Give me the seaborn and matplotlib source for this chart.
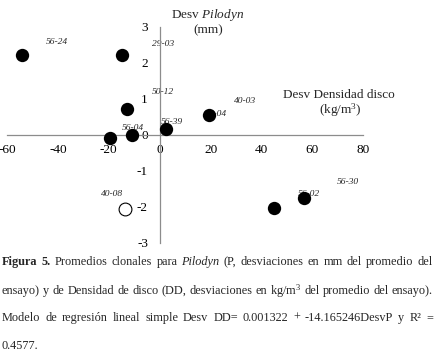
import matplotlib
matplotlib.use("Agg")
import matplotlib.pyplot as plt
import seaborn as sns
import pandas as pd

# Datos (desviaciones clonales)
clones = ["56-24", "29-03", "50-12", "40-03", "56-39", "56-04", "40-04", "40-08", "56-30", "56-02"]
desv_densidad = [-54.2, -14.9, -12.9, 19.4, 2.4, -10.9, -19.6, -13.6, 44.8, 56.8]
desv_pilodyn = [2.22, 2.20, 0.72, 0.56, 0.15, 0.0, -0.09, -2.06, -2.03, -1.75]
relleno = ["si", "si", "si", "si", "si", "si", "si", "no", "si", "si"]

# desplazamiento de las etiquetas (pixeles)
label_offsets = [(35, 13), (41, 12), (36, 17), (36, 14), (6, 7), (1, 7),
                 (106, 24), (-13, 15), (74, 26), (5, 4)]

x_ticks = [-60, -40, -20, 0, 20, 40, 60, 80]
y_ticks = [-3, -2, -1, 0, 1, 2, 3]

df = pd.DataFrame({"clon": clones, "dd": desv_densidad, "p": desv_pilodyn, "relleno": relleno})

W, H = 439, 357
sns.set_style("white")
plt.rcParams["font.family"] = ["Liberation Serif", "DejaVu Serif"]
plt.rcParams["mathtext.fontset"] = "custom"
plt.rcParams["mathtext.rm"] = "Liberation Serif"
plt.rcParams["mathtext.it"] = "Liberation Serif:italic"
plt.rcParams["mathtext.bf"] = "Liberation Serif:bold"
plt.rcParams["axes.unicode_minus"] = False

fig = plt.figure(figsize=(W / 100, H / 100), dpi=100)
ax = fig.add_axes([7 / W, 1 - 242.7 / H, 356.3 / W, 216 / H])

sns.scatterplot(data=df[df.relleno == "si"], x="dd", y="p", ax=ax, s=92,
                color="black", edgecolor="black", linewidth=0, zorder=3, legend=False)
sns.scatterplot(data=df[df.relleno == "no"], x="dd", y="p", ax=ax, s=85,
                color="white", edgecolor="black", linewidth=0.8, zorder=3, legend=False)

for (clon, x, y), off in zip(df[["clon", "dd", "p"]].values, label_offsets):
    ax.annotate(clon, (x, y), xytext=off, textcoords="offset pixels",
                fontsize=6.8, style="italic", ha="center", va="center", zorder=1)

ax.set_xlim(-60, 80)
ax.set_ylim(-3, 3)
ax.set_xticks(x_ticks)
ax.set_yticks(y_ticks)
ax.set_xlabel("")
ax.set_ylabel("")
for side in ["top", "right"]:
    ax.spines[side].set_visible(False)
ax.spines["left"].set_position(("data", 0))
ax.spines["bottom"].set_position(("data", 0))
for side in ["left", "bottom"]:
    ax.spines[side].set_color("#8c8c8c")
    ax.spines[side].set_linewidth(0.9)
ax.tick_params(axis="both", direction="out", length=3, width=0.9, color="#8c8c8c",
               labelsize=9.5, labelcolor="black")
ax.tick_params(axis="x", pad=3.5)
ax.tick_params(axis="y", pad=5.5)
ax.patch.set_alpha(0)

# titulos de ejes
fig.text(208 / W, 1 - 15 / H, r"Desv $\mathit{Pilodyn}$", ha="center", va="center", fontsize=9.5)
fig.text(208 / W, 1 - 30 / H, "(mm)", ha="center", va="center", fontsize=9.5)
fig.text(339 / W, 1 - 95 / H, "Desv Densidad disco", ha="center", va="center", fontsize=9.5)
fig.text(340 / W, 1 - 110 / H, r"(kg/m$^3$)", ha="center", va="center", fontsize=9.5)

# pie de figura, justificado
caption = [
    ([("Figura", "b"), ("5.", "b"), ("Promedios", "n"), ("clonales", "n"), ("para", "n"),
      ("Pilodyn", "i"), ("(P,", "n"), ("desviaciones", "n"), ("en", "n"), ("mm", "n"),
      ("del", "n"), ("promedio", "n"), ("del", "n")], 262, True),
    ([("ensayo)", "n"), ("y", "n"), ("de", "n"), ("Densidad", "n"), ("de", "n"), ("disco", "n"),
      ("(DD,", "n"), ("desviaciones", "n"), ("en", "n"), (r"kg/m$^3$", "n"), ("del", "n"),
      ("promedio", "n"), ("del", "n"), ("ensayo).", "n")], 291, True),
    ([("Modelo", "n"), ("de", "n"), ("regresión", "n"), ("lineal", "n"), ("simple", "n"),
      ("Desv", "n"), ("DD=", "n"), ("0.001322", "n"), ("+", "n"), ("-14.165246DesvP", "n"),
      ("y", "n"), ("R²", "n"), ("=", "n")], 318, True),
    ([("0.4577.", "n")], 346, False),
]
styles = {"n": {}, "b": {"weight": "bold"}, "i": {"style": "italic"}}
renderer = fig.canvas.get_renderer()
x0, x1 = 2, 433
for words, ypx, justify in caption:
    arts = [fig.text(0, 1 - ypx / H, w, fontsize=8.8, ha="left", va="center", **styles[s])
            for w, s in words]
    widths = [t.get_window_extent(renderer).width for t in arts]
    if justify and len(arts) > 1:
        gap = (x1 - x0 - sum(widths)) / (len(arts) - 1)
    else:
        gap = 3
    x = x0
    for t, w in zip(arts, widths):
        t.set_x(x / W)
        x += w + gap

fig.savefig("out.png", dpi=100)
